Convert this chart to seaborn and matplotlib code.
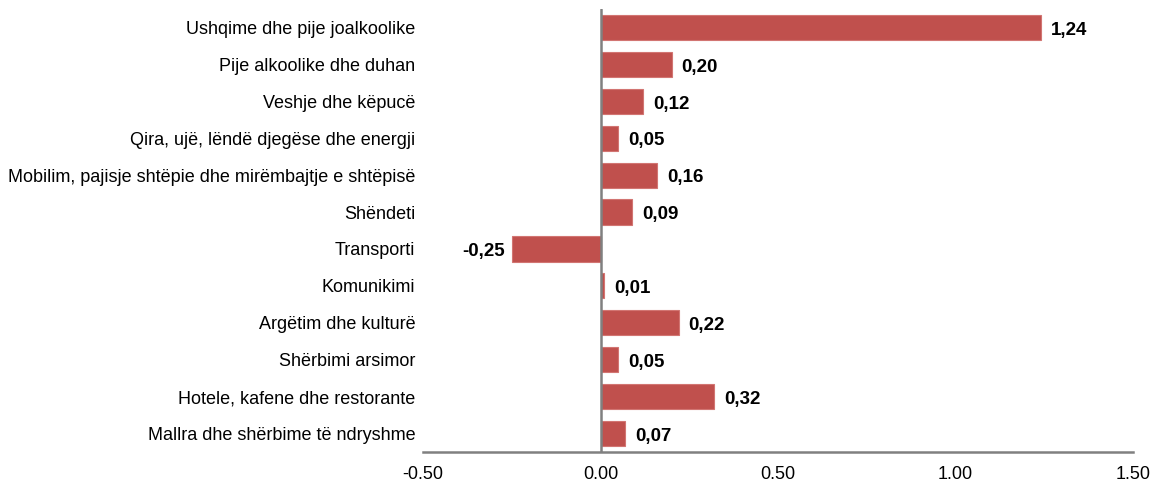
import matplotlib
matplotlib.use("Agg")
import matplotlib.pyplot as plt
import seaborn as sns
import pandas as pd

categories = [
    "Ushqime dhe pije joalkoolike",
    "Pije alkoolike dhe duhan",
    "Veshje dhe këpucë",
    "Qira, ujë, lëndë djegëse dhe energji",
    "Mobilim, pajisje shtëpie dhe mirëmbajtje e shtëpisë",
    "Shëndeti",
    "Transporti",
    "Komunikimi",
    "Argëtim dhe kulturë",
    "Shërbimi arsimor",
    "Hotele, kafene dhe restorante",
    "Mallra dhe shërbime të ndryshme",
]
values = [1.24, 0.20, 0.12, 0.05, 0.16, 0.09, -0.25, 0.01, 0.22, 0.05, 0.32, 0.07]
xticks = [-0.5, 0.0, 0.5, 1.0, 1.5]

df = pd.DataFrame({"cat": categories, "val": values})

sns.set_style("white")
plt.rcParams["font.family"] = ["Liberation Sans", "DejaVu Sans"]
plt.rcParams["text.color"] = "black"

fig = plt.figure(figsize=(11.54, 4.87), dpi=100)
ax = fig.add_axes([0.3666, 0.0719, 0.6152, 0.9096])

sns.barplot(data=df, x="val", y="cat", color="#C0504D", width=0.68,
            edgecolor="#D27572", linewidth=0.8, saturation=1, ax=ax)

# value labels, comma as decimal separator
for i, v in enumerate(values):
    txt = f"{v:.2f}".replace(".", ",")
    if v >= 0:
        ax.annotate(txt, (v, i), xytext=(7, -2), textcoords="offset points",
                    ha="left", va="center", fontsize=13.5, fontweight="bold",
                    color="black")
    else:
        ax.annotate(txt, (v, i), xytext=(-5, -2), textcoords="offset points",
                    ha="right", va="center", fontsize=13.5, fontweight="bold",
                    color="black")

ax.set_xlim(-0.5, 1.5)
ax.set_ylim(len(categories) - 0.5, -0.5)
ax.set_xticks(xticks)
ax.set_xticklabels([f"{t:.2f}" for t in xticks])
ax.tick_params(axis="both", length=0, labelsize=13, colors="black")
ax.tick_params(axis="x", pad=10)
ax.tick_params(axis="y", pad=5.5)
ax.set_xlabel("")
ax.set_ylabel("")

for s in ["top", "right", "left"]:
    ax.spines[s].set_visible(False)
ax.spines["bottom"].set_color("#808080")
ax.spines["bottom"].set_linewidth(1.8)
ax.axvline(0, color="#808080", linewidth=1.8, zorder=3)

fig.savefig("out.png", dpi=100)
